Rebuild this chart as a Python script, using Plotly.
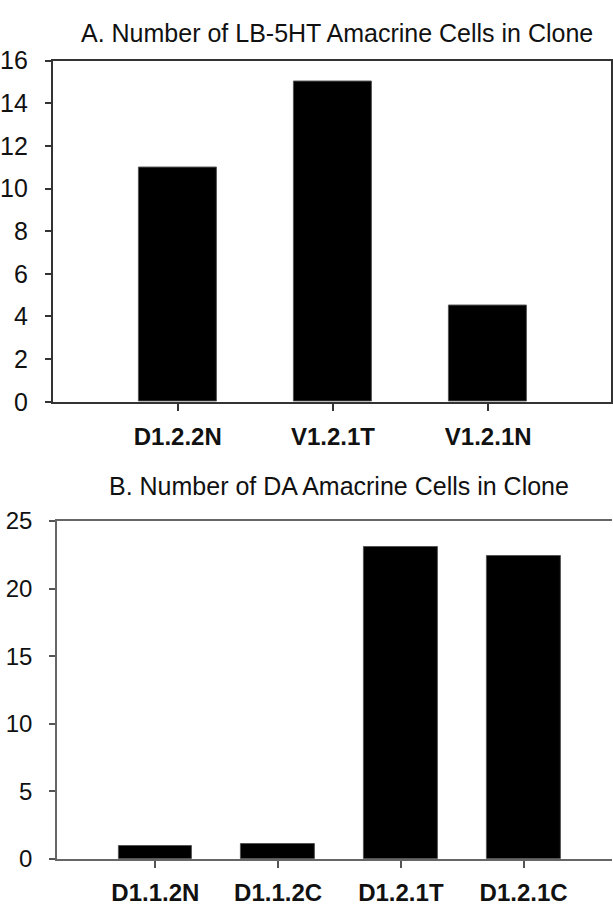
import plotly.graph_objects as go

# Panel A: LB-5HT amacrine cells per clone
clones_a = ["D1.2.2N", "V1.2.1T", "V1.2.1N"]
cells_a = [11, 15, 4.5]
ticks_a = [0, 2, 4, 6, 8, 10, 12, 14, 16]

# Panel B: DA amacrine cells per clone
clones_b = ["D1.1.2N", "D1.1.2C", "D1.2.1T", "D1.2.1C"]
cells_b = [0.95, 1.1, 23.1, 22.4]
ticks_b = [0, 5, 10, 15, 20, 25]

W, H = 613, 917
FONT = "Liberation Sans, Arial, sans-serif"

fig = go.Figure()
fig.add_trace(go.Bar(x=clones_a, y=cells_a, width=0.5,
                     marker=dict(color="#000000", line=dict(color="#555555", width=1)),
                     xaxis="x", yaxis="y", showlegend=False))
fig.add_trace(go.Bar(x=clones_b, y=cells_b, width=0.6,
                     marker=dict(color="#000000", line=dict(color="#555555", width=1)),
                     xaxis="x2", yaxis="y2", showlegend=False))

def px_x(v):
    return v / W

def px_y(v):
    return (H - v) / H

tickfont_x = dict(family=FONT, size=24, color="#111111", weight="bold")

fig.update_layout(
    width=W, height=H,
    margin=dict(l=0, r=0, t=0, b=0),
    paper_bgcolor="white", plot_bgcolor="white",
    bargap=0,
    xaxis=dict(domain=[px_x(53), px_x(612)], anchor="y", type="category",
               range=[-0.804, 2.791], showgrid=False, zeroline=False,
               showline=True, linecolor="#333333", linewidth=2, mirror=True,
               ticks="outside", ticklen=7, tickcolor="#333333", tickwidth=1.5,
               tickfont=tickfont_x, ticklabelstandoff=5),
    yaxis=dict(domain=[px_y(400), px_y(48)], anchor="x", range=[0, 16],
               tickvals=ticks_a, showgrid=False, zeroline=False,
               showline=True, linecolor="#333333", linewidth=2, mirror=True,
               ticks="outside", ticklen=6, tickcolor="#333333", tickwidth=1.5,
               tickfont=dict(family=FONT, size=25, color="#111111"),
               ticklabelstandoff=12),
    xaxis2=dict(domain=[px_x(57), 1.0], anchor="y2", type="category",
                range=[-0.802, 3.72], showgrid=False, zeroline=False,
                showline=True, linecolor="#666666", linewidth=1.5, mirror=True,
                ticks="outside", ticklen=7, tickcolor="#555555", tickwidth=1.5,
                tickfont=tickfont_x, ticklabelstandoff=5),
    yaxis2=dict(domain=[px_y(871.5), px_y(523)], anchor="x2", range=[0, 25],
                tickvals=ticks_b, showgrid=False, zeroline=False,
                showline=True, linecolor="#666666", linewidth=1.5, mirror=False,
                ticks="outside", ticklen=6, tickcolor="#555555", tickwidth=1.5,
                tickfont=dict(family=FONT, size=24, color="#111111"),
                ticklabelstandoff=12),
    annotations=[
        dict(text="A. Number of LB-5HT Amacrine Cells in Clone", x=px_x(338), y=px_y(20),
             xref="paper", yref="paper", xanchor="center", yanchor="middle",
             showarrow=False, font=dict(family=FONT, size=25, color="#111111")),
        dict(text="B. Number of DA Amacrine Cells in Clone", x=px_x(340), y=px_y(487),
             xref="paper", yref="paper", xanchor="center", yanchor="middle",
             showarrow=False, font=dict(family=FONT, size=25, color="#111111")),
    ],
)

fig.write_html("out.html")
